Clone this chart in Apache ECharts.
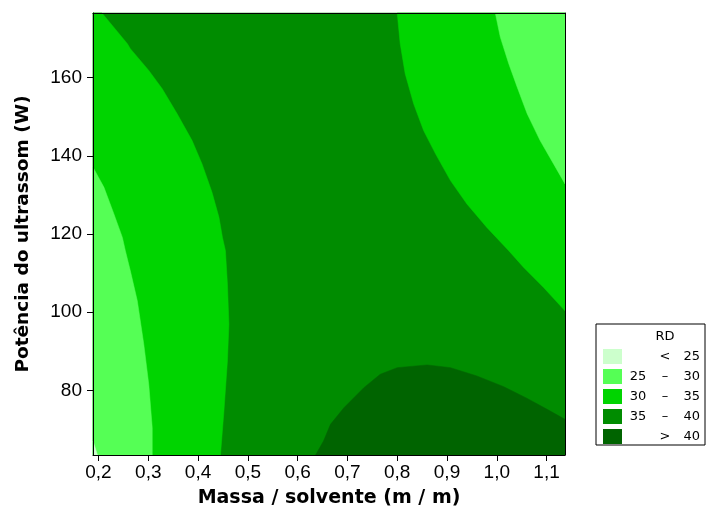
<!DOCTYPE html>
<html>
<head>
<meta charset="utf-8">
<script src="https://cdn.jsdelivr.net/npm/echarts@6/dist/echarts.min.js"></script>
<style>html,body{margin:0;padding:0;background:#fff}#c{width:706px;height:507px}</style>
</head>
<body>
<div id="c"></div>
<script>
// Axis extent (data units)
const X_MIN = 0.189, X_MAX = 1.137, Y_MIN = 63.43, Y_MAX = 176.57;
const X_TICKS = [0.2, 0.3, 0.4, 0.5, 0.6, 0.7, 0.8, 0.9, 1.0, 1.1];
const Y_TICKS = [80, 100, 120, 140, 160];
const LEVELS = ['< 25', '25 – 30', '30 – 35', '35 – 40', '> 40'];
const COLORS = ['#ccffcc', '#55ff55', '#00d400', '#008c00', '#006400'];

// Contour boundaries ([mass ratio, power W])
const EDGE_30_LEFT = [[0.207,Y_MAX],[0.258,168.72],[0.264,167.44],[0.301,161.87],[0.328,157.18],[0.358,150.77],[0.388,143.92],[0.408,137.95],[0.428,130.67],[0.442,124.26],[0.449,119.13],[0.455,115.72],[0.459,107.18],[0.462,96.92],[0.459,87.51],[0.452,74.69],[0.445,Y_MIN]];
const EDGE_25_LEFT = [[X_MIN,137.08],[0.211,131.95],[0.231,125.13],[0.248,119.13],[0.254,115.72],[0.264,110.59],[0.278,102.9],[0.291,91.79],[0.301,81.54],[0.308,70.41],[0.308,Y_MIN]];
const EDGE_LOW_LEFT = [[X_MIN,67.0],[0.198,Y_MIN]];
const EDGE_30_RIGHT = [[0.800,Y_MAX],[0.806,168.72],[0.816,161.03],[0.833,153.33],[0.853,146.49],[0.877,140.51],[0.907,133.67],[0.940,127.69],[0.980,121.69],[1.024,115.72],[1.054,111.44],[1.094,106.31],[X_MAX,100.33]];
const EDGE_25_RIGHT = [[0.997,Y_MAX],[1.007,170.41],[1.024,163.59],[1.041,157.59],[1.061,150.77],[1.087,143.92],[1.114,137.95],[X_MAX,132.82]];
const EDGE_40 = [[0.636,Y_MIN],[0.652,67.0],[0.666,71.28],[0.693,75.54],[0.733,80.67],[0.766,84.10],[0.800,85.79],[0.860,86.49],[0.907,85.79],[0.960,83.67],[1.014,80.92],[1.061,77.92],[1.101,75.13],[X_MAX,72.56]];

const polyBg = [[X_MIN,Y_MIN],[X_MAX,Y_MIN],[X_MAX,Y_MAX],[X_MIN,Y_MAX]];
const poly30L = [[X_MIN,Y_MAX]].concat(EDGE_30_LEFT, [[X_MIN,Y_MIN]]);
const poly25L = EDGE_25_LEFT.concat([[X_MIN,Y_MIN]]);
const polyLow = EDGE_LOW_LEFT.concat([[X_MIN,Y_MIN]]);
const poly30R = EDGE_30_RIGHT.concat([[X_MAX,Y_MAX]]);
const poly25R = EDGE_25_RIGHT.concat([[X_MAX,Y_MAX]]);
const poly40 = EDGE_40.concat([[X_MAX,Y_MIN]]);

function renderPoly(params, api) {
  if (params.dataIndexInside !== 0) return null;
  const pts = [];
  for (let i = 0; i < params.dataInsideLength; i++) {
    pts.push(api.coord([api.value(0, i), api.value(1, i)]));
  }
  return { type: 'polygon', shape: { points: pts }, style: { fill: api.visual('color'), stroke: api.visual('color'), lineWidth: 0.5 } };
}
function region(level, data, z) {
  return {
    type: 'custom', name: LEVELS[level], data: data, z: z, silent: true,
    encode: { x: 0, y: 1 }, renderItem: renderPoly,
    itemStyle: { color: COLORS[level] }
  };
}
const fmt = v => v.toFixed(1).replace('.', ',');

const chart = echarts.init(document.getElementById('c'), null, { renderer: 'canvas' });
chart.setOption({
  animation: false,
  backgroundColor: '#fff',
  grid: { left: 93, right: 141, top: 13, bottom: 52, outerBoundsMode: 'none' },
  xAxis: [{
    type: 'value', min: X_MIN, max: X_MAX, position: 'bottom', z: 10,
    name: 'Massa / solvente (m / m)', nameLocation: 'middle', nameGap: 34,
    nameTextStyle: { fontFamily: 'DejaVu Sans', fontWeight: 'bold', fontSize: 19, color: '#000' },
    axisLine: { show: true, onZero: false, lineStyle: { color: '#000', width: 1 } },
    axisTick: { show: true, inside: false, length: 6, customValues: X_TICKS, lineStyle: { color: '#000' } },
    axisLabel: { customValues: X_TICKS, formatter: fmt, margin: 8, fontFamily: 'Liberation Sans', fontSize: 19, color: '#000' },
    splitLine: { show: false }
  }, {
    type: 'value', min: X_MIN, max: X_MAX, position: 'top', z: 10,
    axisLine: { show: true, onZero: false, lineStyle: { color: '#000', width: 1 } },
    axisTick: { show: false }, axisLabel: { show: false }, splitLine: { show: false }
  }],
  yAxis: [{
    type: 'value', min: Y_MIN, max: Y_MAX, position: 'left', z: 10,
    name: 'Potência do ultrassom (W)', nameLocation: 'middle', nameGap: 60, nameRotate: 90,
    nameTextStyle: { fontFamily: 'DejaVu Sans', fontWeight: 'bold', fontSize: 18.5, color: '#000' },
    axisLine: { show: true, onZero: false, lineStyle: { color: '#000', width: 1 } },
    axisTick: { show: true, inside: false, length: 6, customValues: Y_TICKS, lineStyle: { color: '#000' } },
    axisLabel: { customValues: Y_TICKS, margin: 11, fontFamily: 'Liberation Sans', fontSize: 19, color: '#000' },
    splitLine: { show: false }
  }, {
    type: 'value', min: Y_MIN, max: Y_MAX, position: 'right', z: 10,
    axisLine: { show: true, onZero: false, lineStyle: { color: '#000', width: 1 } },
    axisTick: { show: false }, axisLabel: { show: false }, splitLine: { show: false }
  }],
  legend: {
    orient: 'vertical', left: 596, top: 324,
    padding: [25, 5, 1, 7], itemGap: 5, itemWidth: 19, itemHeight: 15,
    borderColor: '#000', borderWidth: 1, selectedMode: false,
    data: LEVELS.map(n => ({ name: n, icon: 'rect' })),
    formatter: function (name) {
      const p = name.split(' ');
      const lo = p.length === 3 ? p[0] : ' ';
      const mid = p.length === 3 ? p[1] : p[0];
      const hi = p.length === 3 ? p[2] : p[1];
      return '{lo|' + lo + '}{mid|' + mid + '}{hi|' + hi + '}';
    },
    textStyle: {
      fontFamily: 'DejaVu Sans', fontSize: 13, color: '#000',
      rich: {
        lo: { width: 22, align: 'right', fontFamily: 'DejaVu Sans', fontSize: 13, lineHeight: 15 },
        mid: { width: 32, align: 'center', fontFamily: 'DejaVu Sans', fontSize: 13, lineHeight: 15 },
        hi: { width: 19, align: 'right', fontFamily: 'DejaVu Sans', fontSize: 13, lineHeight: 15 }
      }
    }
  },
  graphic: [{
    type: 'text', x: 665, y: 337, z: 100,
    style: { text: 'RD', fontFamily: 'DejaVu Sans', fontSize: 13, fill: '#000', align: 'center', verticalAlign: 'middle' }
  }],
  series: [
    region(3, polyBg, 1),
    region(2, poly30L, 2),
    region(2, poly30R, 2),
    region(1, poly25L, 3),
    region(1, poly25R, 3),
    region(0, polyLow, 4),
    region(4, poly40, 2)
  ]
});
</script>
</body>
</html>
